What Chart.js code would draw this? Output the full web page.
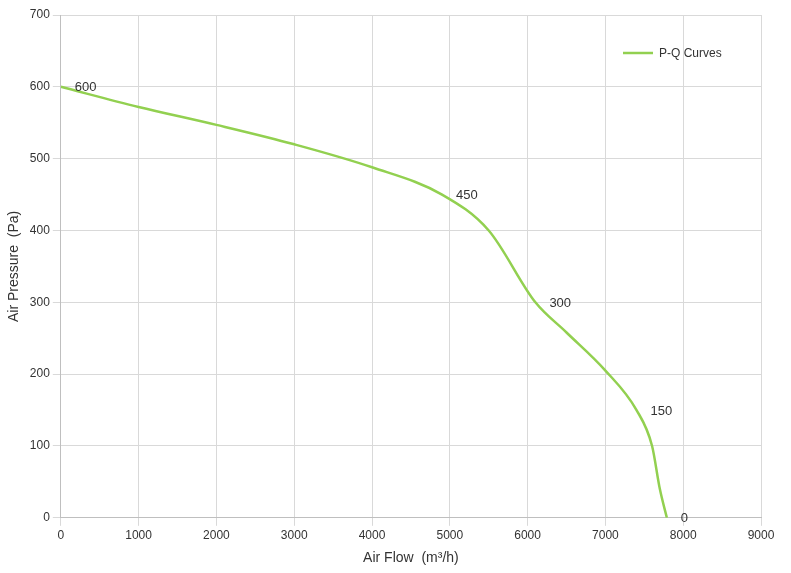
<!DOCTYPE html>
<html><head><meta charset="utf-8">
<script src="https://cdn.jsdelivr.net/npm/chart.js@4/dist/chart.umd.min.js"></script>
<style>body{margin:0;background:#fff}#w{width:791px;height:573px}</style>
</head><body><div id="w"><canvas id="c"></canvas></div>
<script>
const flow = [0, 1000, 2000, 3000, 4000, 4900, 5500, 6100, 6500, 7000, 7400, 7600, 7700, 7790];
const pressure = [600, 572, 547, 520, 488, 450, 400, 300, 258, 205, 150, 100, 40, 0];
const pointLabels = ["600", "", "", "", "", "450", "", "300", "", "", "150", "", "", "0"];
const seriesName = "P-Q Curves";

const labelPlugin = {
  id: 'lbl',
  afterDatasetsDraw(chart) {
    const ctx = chart.ctx, meta = chart.getDatasetMeta(0), ca = chart.chartArea;
    ctx.save();
    ctx.font = '13px "Liberation Sans", Arial, sans-serif';
    ctx.fillStyle = '#333';
    ctx.textBaseline = 'middle';
    meta.data.forEach((p, i) => { if (pointLabels[i]) ctx.fillText(pointLabels[i], p.x + 14, p.y + 1); });
    // legend
    const ly = ca.top + 38, lx = ca.right - 138;
    ctx.strokeStyle = '#92d050'; ctx.lineWidth = 2.5;
    ctx.beginPath(); ctx.moveTo(lx, ly); ctx.lineTo(lx + 30, ly); ctx.stroke();
    ctx.font = '12px "Liberation Sans", Arial, sans-serif';
    ctx.fillText(seriesName, lx + 36, ly + 1);
    ctx.restore();
  }
};

new Chart(document.getElementById('c'), {
  type: 'scatter',
  data: { datasets: [{
    label: seriesName,
    data: flow.map((x, i) => ({x, y: pressure[i]})),
    showLine: true, borderColor: '#92d050', backgroundColor: '#92d050',
    borderWidth: 2.5, pointRadius: 0, cubicInterpolationMode: 'monotone'
  }]},
  options: {
    responsive: true, maintainAspectRatio: false, animation: false,
    layout: { padding: { left: 2, right: 30, top: 15, bottom: 2 } },
    plugins: { legend: { display: false }, tooltip: { enabled: false } },
    scales: {
      x: { type: 'linear', min: 0, max: 9000,
        ticks: { stepSize: 1000, color: '#333', font: { size: 12 }, callback: v => String(v) },
        grid: { color: '#d9d9d9' }, border: { color: '#bfbfbf' },
        title: { display: true, text: 'Air Flow  (m³/h)', color: '#333', font: { size: 14 } } },
      y: { min: 0, max: 700,
        ticks: { stepSize: 100, color: '#333', font: { size: 12 } },
        grid: { color: '#d9d9d9' }, border: { color: '#bfbfbf' },
        title: { display: true, text: 'Air Pressure  (Pa)', color: '#333', font: { size: 14 } } }
    }
  },
  plugins: [labelPlugin]
});
</script></body></html>
